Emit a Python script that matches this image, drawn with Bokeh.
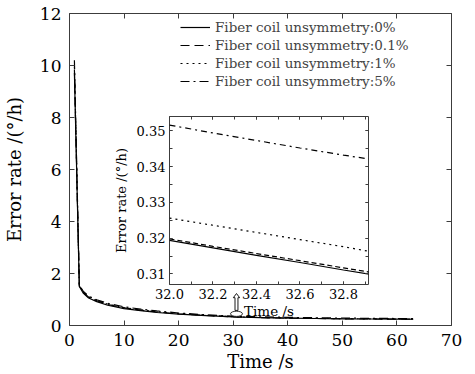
from bokeh.plotting import figure
from bokeh.models import (Range1d, LinearAxis, SingleIntervalTicker, PrintfTickFormatter,
                          Legend, LegendItem, Column, CustomLabelingPolicy)
from bokeh.embed import file_html
from bokeh.resources import INLINE

FONT = "DejaVu Serif"

# ---- main data ----
t_main = [0.9, 1.8, 2.5, 3.5, 5, 7, 10, 13, 16, 20, 25, 30, 35, 40, 45, 50, 55, 60, 63]
e_0 = [9.70, 1.50, 1.25, 1.06, 0.92, 0.78, 0.65, 0.57, 0.50, 0.44, 0.38, 0.330, 0.302, 0.285, 0.270, 0.258, 0.250, 0.244, 0.240]
e_01 = [9.85, 1.52, 1.28, 1.09, 0.95, 0.81, 0.68, 0.59, 0.52, 0.45, 0.385, 0.331, 0.303, 0.286, 0.271, 0.259, 0.251, 0.245, 0.241]
e_1 = [9.95, 1.53, 1.29, 1.10, 0.96, 0.82, 0.69, 0.60, 0.53, 0.46, 0.39, 0.337, 0.309, 0.291, 0.276, 0.264, 0.256, 0.250, 0.246]
e_5 = [10.2, 1.56, 1.32, 1.13, 0.99, 0.85, 0.72, 0.63, 0.56, 0.48, 0.41, 0.362, 0.333, 0.314, 0.298, 0.285, 0.276, 0.269, 0.265]

# ---- inset data ----
t_in = [32.0, 32.2, 32.4, 32.6, 32.8, 32.92]
in_0 = [0.3194, 0.3173, 0.3152, 0.3132, 0.3111, 0.3099]
in_01 = [0.3198, 0.3177, 0.3157, 0.3137, 0.3117, 0.3105]
in_1 = [0.3256, 0.3236, 0.3216, 0.3196, 0.3176, 0.3163]
in_5 = [0.3516, 0.3494, 0.3473, 0.3452, 0.3432, 0.3421]

labels = ["Fiber coil unsymmetry:0%", "Fiber coil unsymmetry:0.1%",
          "Fiber coil unsymmetry:1%", "Fiber coil unsymmetry:5%"]

EDGE = "#3c3c3c"


def style_axes(fig, xticker, yticker, font_size, tick_len, minor_len, xfmt=None, yfmt=None,
               x_standoff=8, y_standoff=8):
    fig.grid.visible = False
    fig.outline_line_color = EDGE
    fig.outline_line_width = 1
    for ax in fig.xaxis + fig.yaxis:
        ax.axis_line_color = None
        ax.major_tick_in = tick_len
        ax.major_tick_out = 0
        ax.minor_tick_in = minor_len
        ax.minor_tick_out = 0
        ax.major_tick_line_color = EDGE
        ax.minor_tick_line_color = EDGE
        ax.major_label_text_font = FONT
        ax.major_label_text_font_size = font_size
        ax.major_label_text_color = "black"
        ax.axis_label_text_font = FONT
        ax.axis_label_text_font_style = "normal"
        ax.axis_label_text_color = "black"
    fig.xaxis.ticker = xticker
    fig.yaxis.ticker = yticker
    fig.xaxis.major_label_standoff = x_standoff
    fig.yaxis.major_label_standoff = y_standoff
    if xfmt:
        fig.xaxis.formatter = PrintfTickFormatter(format=xfmt)
    if yfmt:
        fig.yaxis.formatter = PrintfTickFormatter(format=yfmt)
    for loc, tk in (("right", yticker), ("above", xticker)):
        ax = LinearAxis(ticker=tk, major_tick_in=tick_len,
                        major_tick_out=0, minor_tick_in=minor_len, minor_tick_out=0,
                        axis_line_color=None, major_label_standoff=0,
                        major_label_policy=CustomLabelingPolicy(code="return new Set()"),
                        major_tick_line_color=EDGE, minor_tick_line_color=EDGE)
        fig.add_layout(ax, loc)


# ---- main figure ----
p = figure(width=475, height=374, x_range=Range1d(0, 70), y_range=Range1d(0, 12),
           output_backend="svg", toolbar_location=None,
           min_border_left=68, min_border_right=9, min_border_top=13, min_border_bottom=48)
p.xaxis.axis_label = "Time /s"
p.yaxis.axis_label = "Error rate /(°/h)"
style_axes(p, SingleIntervalTicker(interval=10, num_minor_ticks=0),
           SingleIntervalTicker(interval=2, num_minor_ticks=0), "17px", 5, 0)
p.xaxis.axis_label_text_font_size = "18px"
p.yaxis.axis_label_text_font_size = "18px"
p.xaxis.axis_label_standoff = 2
p.yaxis.axis_label_standoff = 12

styles = [dict(line_dash="solid"), dict(line_dash="9 5"), dict(line_dash="2 4"),
          dict(line_dash="9 4 2 4")]
series = [e_0, e_01, e_1, e_5]
items = []
for ys, st, lab in zip(series, styles, labels):
    r = p.line(t_main, ys, line_color="black", line_width=1.2, **st)
    items.append(LegendItem(label=lab, renderers=[r]))

legend = Legend(items=items, location=(111, 235), border_line_color=None,
                background_fill_alpha=0, label_text_font=FONT, label_text_font_size="13.5px",
                glyph_width=30, glyph_height=18, label_height=18, label_standoff=5,
                padding=2, spacing=0, margin=0)
p.add_layout(legend)

# zoom marker: ellipse around the inset's time window and a hollow block arrow above it
cx, cy = 30.6, 0.45
p.ellipse(x=[cx], y=[cy], width=2.2, height=0.2, fill_color="white",
          line_color="black", line_width=0.8)
bw, hw = 0.27, 0.58          # half widths of arrow body / head (data units)
y0, yh, yt = 0.58, 1.07, 1.23  # body bottom, head base, tip
p.patch(x=[cx - bw, cx - bw, cx - hw, cx, cx + hw, cx + bw, cx + bw],
        y=[y0, yh, yh, yt, yh, yh, y0],
        fill_color="white", line_color="black", line_width=0.9)

# ---- inset figure ----
q = figure(width=292, height=219, x_range=Range1d(32.0, 32.915), y_range=Range1d(0.30705, 0.354),
           output_backend="svg", toolbar_location=None,
           min_border_left=66, min_border_right=4, min_border_top=4, min_border_bottom=40)
q.border_fill_alpha = 0
q.background_fill_color = "white"
q.xaxis.axis_label = "Time /s"
q.yaxis.axis_label = "Error rate /(°/h)"
style_axes(q, SingleIntervalTicker(interval=0.2, num_minor_ticks=2),
           SingleIntervalTicker(interval=0.01, num_minor_ticks=2), "13px", 3, 3,
           xfmt="%.1f", yfmt="%.2f", x_standoff=4, y_standoff=4)
q.xaxis.axis_label_text_font_size = "13.5px"
q.yaxis.axis_label_text_font_size = "13px"
q.xaxis.axis_label_standoff = 1
q.yaxis.axis_label_standoff = 5

in_styles = [dict(line_dash="solid"), dict(line_dash="5 3"), dict(line_dash="2 4"),
             dict(line_dash="6 4 2 4")]
for ys, st in zip([in_0, in_01, in_1, in_5], in_styles):
    q.line(t_in, ys, line_color="black", line_width=1.2, **st)

q.styles = {"position": "absolute", "left": "100px", "top": "105px"}

layout = Column(children=[p, q], width=475, height=374, styles={"position": "relative"})

open("out.html", "w").write(file_html(layout, INLINE))
